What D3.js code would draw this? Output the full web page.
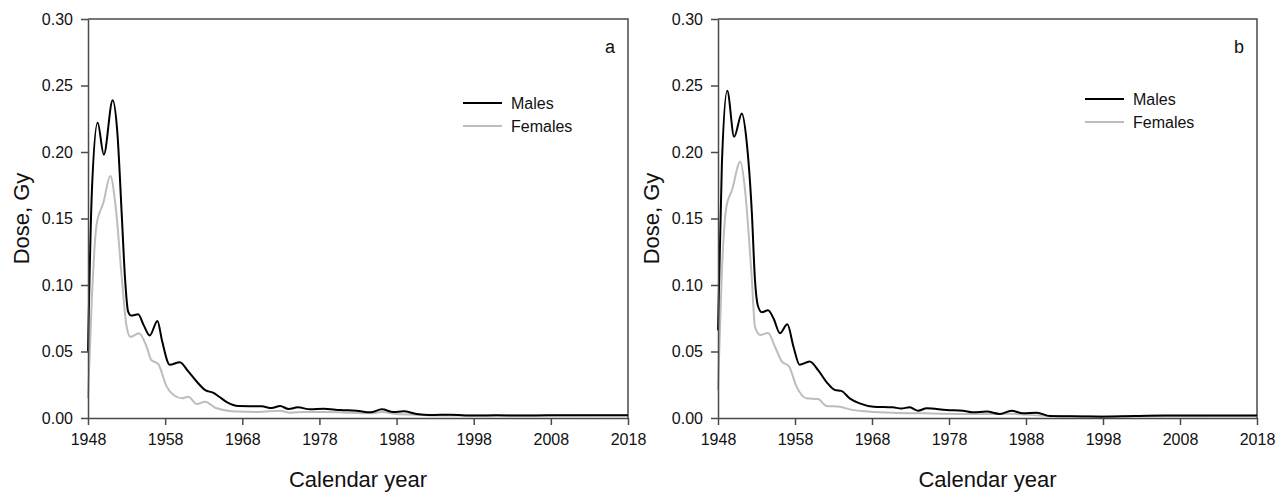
<!DOCTYPE html>
<html>
<head>
<meta charset="utf-8">
<script src="https://cdn.jsdelivr.net/npm/d3@7"></script>
<style>
  body { margin: 0; background: #fff; }
  svg { display: block; }
</style>
</head>
<body>
<div id="chart"></div>
<script>
// years shown on the x axis, dose ticks on the y axis
const xTicks = [1948, 1958, 1968, 1978, 1988, 1998, 2008, 2018];
const yTicks = [0, 0.05, 0.10, 0.15, 0.20, 0.25, 0.30];
const seriesNames = ["Males", "Females"];
const panelNames = ["a", "b"];

// panel a
const malesAYears = [1948.0, 1948.5, 1949.25, 1950.05, 1951.2, 1951.8, 1952.4, 1952.8, 1953.2, 1953.6, 1954.5, 1955.2, 1956.0, 1957.0, 1957.6, 1958.6, 1959.9, 1961.0, 1962.0, 1963.2, 1964.2, 1965.0, 1966.0, 1967.5, 1970.5, 1971.8, 1972.9, 1974.0, 1975.2, 1976.8, 1978.5, 1980.7, 1982.8, 1984.6, 1986.1, 1987.6, 1988.9, 1990.6, 1992.3, 1995.0, 1998, 2001, 2004, 2008, 2018];
const malesAValues = [0.050, 0.170, 0.222, 0.198, 0.239, 0.215, 0.150, 0.105, 0.080, 0.077, 0.078, 0.070, 0.062, 0.073, 0.058, 0.040, 0.042, 0.035, 0.028, 0.021, 0.019, 0.016, 0.012, 0.009, 0.0088, 0.0075, 0.009, 0.0068, 0.008, 0.0065, 0.007, 0.006, 0.0055, 0.0043, 0.0065, 0.0045, 0.005, 0.003, 0.0022, 0.0025, 0.0018, 0.002, 0.0018, 0.002, 0.002];
const femalesAYears = [1948.0, 1948.5, 1949.1, 1950.0, 1950.9, 1951.6, 1952.4, 1953.0, 1953.5, 1954.6, 1955.6, 1956.2, 1957.1, 1958.2, 1959.1, 1960.2, 1961.0, 1962.1, 1963.2, 1964.5, 1967.3, 1970, 1972.9, 1974.2, 1976, 1979, 1982, 1984.6, 1986.1, 1988, 1990.5, 1993, 2000, 2018];
const femalesAValues = [0.015, 0.090, 0.145, 0.162, 0.182, 0.158, 0.104, 0.069, 0.061, 0.0637, 0.0536, 0.0436, 0.0406, 0.0236, 0.0173, 0.0148, 0.016, 0.0105, 0.0123, 0.0077, 0.0048, 0.0045, 0.0055, 0.004, 0.0045, 0.0045, 0.004, 0.0035, 0.0045, 0.003, 0.0025, 0.0018, 0.0018, 0.002];

// panel b
const malesBYears = [1948.0, 1948.5, 1949.2, 1950.1, 1951.1, 1951.7, 1952.4, 1952.8, 1953.2, 1953.7, 1954.5, 1955.2, 1956.05, 1957.0, 1957.8, 1958.6, 1959.9, 1961.0, 1962.1, 1963.2, 1964.0, 1965.1, 1966.4, 1968.2, 1970.7, 1971.8, 1972.9, 1974.0, 1975.1, 1977.7, 1979.8, 1981.1, 1982.9, 1984.6, 1986.1, 1987.6, 1989.4, 1991.1, 1995.4, 1998, 2002, 2006, 2018];
const malesBValues = [0.066, 0.190, 0.246, 0.2115, 0.229, 0.209, 0.154, 0.104, 0.084, 0.0795, 0.081, 0.075, 0.0637, 0.0704, 0.0536, 0.040, 0.0424, 0.036, 0.027, 0.021, 0.0204, 0.0148, 0.011, 0.0085, 0.008, 0.0072, 0.008, 0.0055, 0.0073, 0.006, 0.0055, 0.0043, 0.0048, 0.003, 0.0055, 0.0035, 0.004, 0.0015, 0.0012, 0.001, 0.0015, 0.0018, 0.0018];
const femalesBYears = [1948.0, 1948.5, 1949.1, 1949.8, 1950.9, 1951.5, 1951.9, 1952.4, 1952.8, 1953.5, 1954.5, 1955.4, 1956.3, 1957.2, 1958.2, 1959.5, 1961.0, 1962.1, 1963.8, 1965.1, 1967, 1970.7, 1975, 1982, 1986, 1991, 2000, 2018];
const femalesBValues = [0.021, 0.110, 0.159, 0.171, 0.1927, 0.172, 0.145, 0.104, 0.0687, 0.0624, 0.064, 0.0536, 0.0424, 0.039, 0.0236, 0.0148, 0.0142, 0.009, 0.0085, 0.0065, 0.005, 0.004, 0.0035, 0.003, 0.0032, 0.0015, 0.0013, 0.0016];

const width = 1279;
const height = 492;
const FONT = "'Liberation Sans', Arial, Helvetica, sans-serif";
const axisColor = "#4a4a4a";
const colors = { Males: "#000000", Females: "#bdbdbd" };

const panels = [
  {
    name: panelNames[0],
    left: 88, right: 628,
    legend: { x: 463, y: 103 },
    series: [
      { name: "Females", years: femalesAYears, values: femalesAValues },
      { name: "Males", years: malesAYears, values: malesAValues }
    ]
  },
  {
    name: panelNames[1],
    left: 718, right: 1257,
    legend: { x: 1085, y: 99 },
    series: [
      { name: "Females", years: femalesBYears, values: femalesBValues },
      { name: "Males", years: malesBYears, values: malesBValues }
    ]
  }
];

const plotTop = 19;
const plotBottom = 418;

const svg = d3.select("#chart").append("svg")
  .attr("width", width)
  .attr("height", height);

panels.forEach(p => {
  const x = d3.scaleLinear().domain([1948, 2018]).range([p.left, p.right]);
  const y = d3.scaleLinear().domain([0, 0.30]).range([plotBottom, plotTop]);

  const g = svg.append("g");

  // frame (top + right)
  g.append("path")
    .attr("d", `M${p.left},${plotTop}H${p.right}V${plotBottom}`)
    .attr("fill", "none")
    .attr("stroke", axisColor)
    .attr("stroke-width", 1.5);

  // lines
  const line = d3.line()
    .x(d => x(d[0]))
    .y(d => y(d[1]))
    .curve(d3.curveMonotoneX);

  p.series.forEach(s => {
    const pts = s.years.map((yr, i) => [yr, s.values[i]]);
    g.append("path")
      .datum(pts)
      .attr("d", line)
      .attr("fill", "none")
      .attr("stroke", colors[s.name])
      .attr("stroke-width", 2)
      .attr("stroke-linejoin", "round");
  });

  // axes
  const xAxis = g.append("g")
    .attr("transform", `translate(0,${plotBottom})`)
    .call(d3.axisBottom(x).tickValues(xTicks).tickFormat(d3.format("d"))
      .tickSize(7).tickSizeOuter(0).tickPadding(9));

  const yAxis = g.append("g")
    .attr("transform", `translate(${p.left},0)`)
    .call(d3.axisLeft(y).tickValues(yTicks).tickFormat(d3.format(".2f"))
      .tickSize(7).tickSizeOuter(0).tickPadding(8));

  [xAxis, yAxis].forEach(a => {
    a.select(".domain").attr("stroke", axisColor).attr("stroke-width", 1.5);
    a.selectAll(".tick line").attr("stroke", axisColor).attr("stroke-width", 1.5);
    a.selectAll(".tick text")
      .attr("fill", "#111")
      .style("font-family", FONT)
      .style("font-size", "16px");
  });

  // axis titles
  g.append("text")
    .attr("transform", `translate(${p.left - 59},${(plotTop + plotBottom) / 2}) rotate(-90)`)
    .attr("text-anchor", "middle")
    .style("font-family", FONT)
    .style("font-size", "22px")
    .attr("fill", "#111")
    .text("Dose, Gy");

  g.append("text")
    .attr("x", (p.left + p.right) / 2)
    .attr("y", 487)
    .attr("text-anchor", "middle")
    .style("font-family", FONT)
    .style("font-size", "22px")
    .attr("fill", "#111")
    .text("Calendar year");

  // panel letter
  g.append("text")
    .attr("x", p.right - 13)
    .attr("y", 53)
    .attr("text-anchor", "end")
    .style("font-family", FONT)
    .style("font-size", "18px")
    .attr("fill", "#111")
    .text(p.name);

  // legend
  seriesNames.forEach((name, i) => {
    const ly = p.legend.y + i * 23;
    g.append("line")
      .attr("x1", p.legend.x).attr("x2", p.legend.x + 39)
      .attr("y1", ly).attr("y2", ly)
      .attr("stroke", colors[name])
      .attr("stroke-width", 2);
    g.append("text")
      .attr("x", p.legend.x + 48)
      .attr("y", ly + 6)
      .style("font-family", FONT)
      .style("font-size", "16px")
      .attr("fill", "#111")
      .text(name);
  });
});
</script>
</body>
</html>
